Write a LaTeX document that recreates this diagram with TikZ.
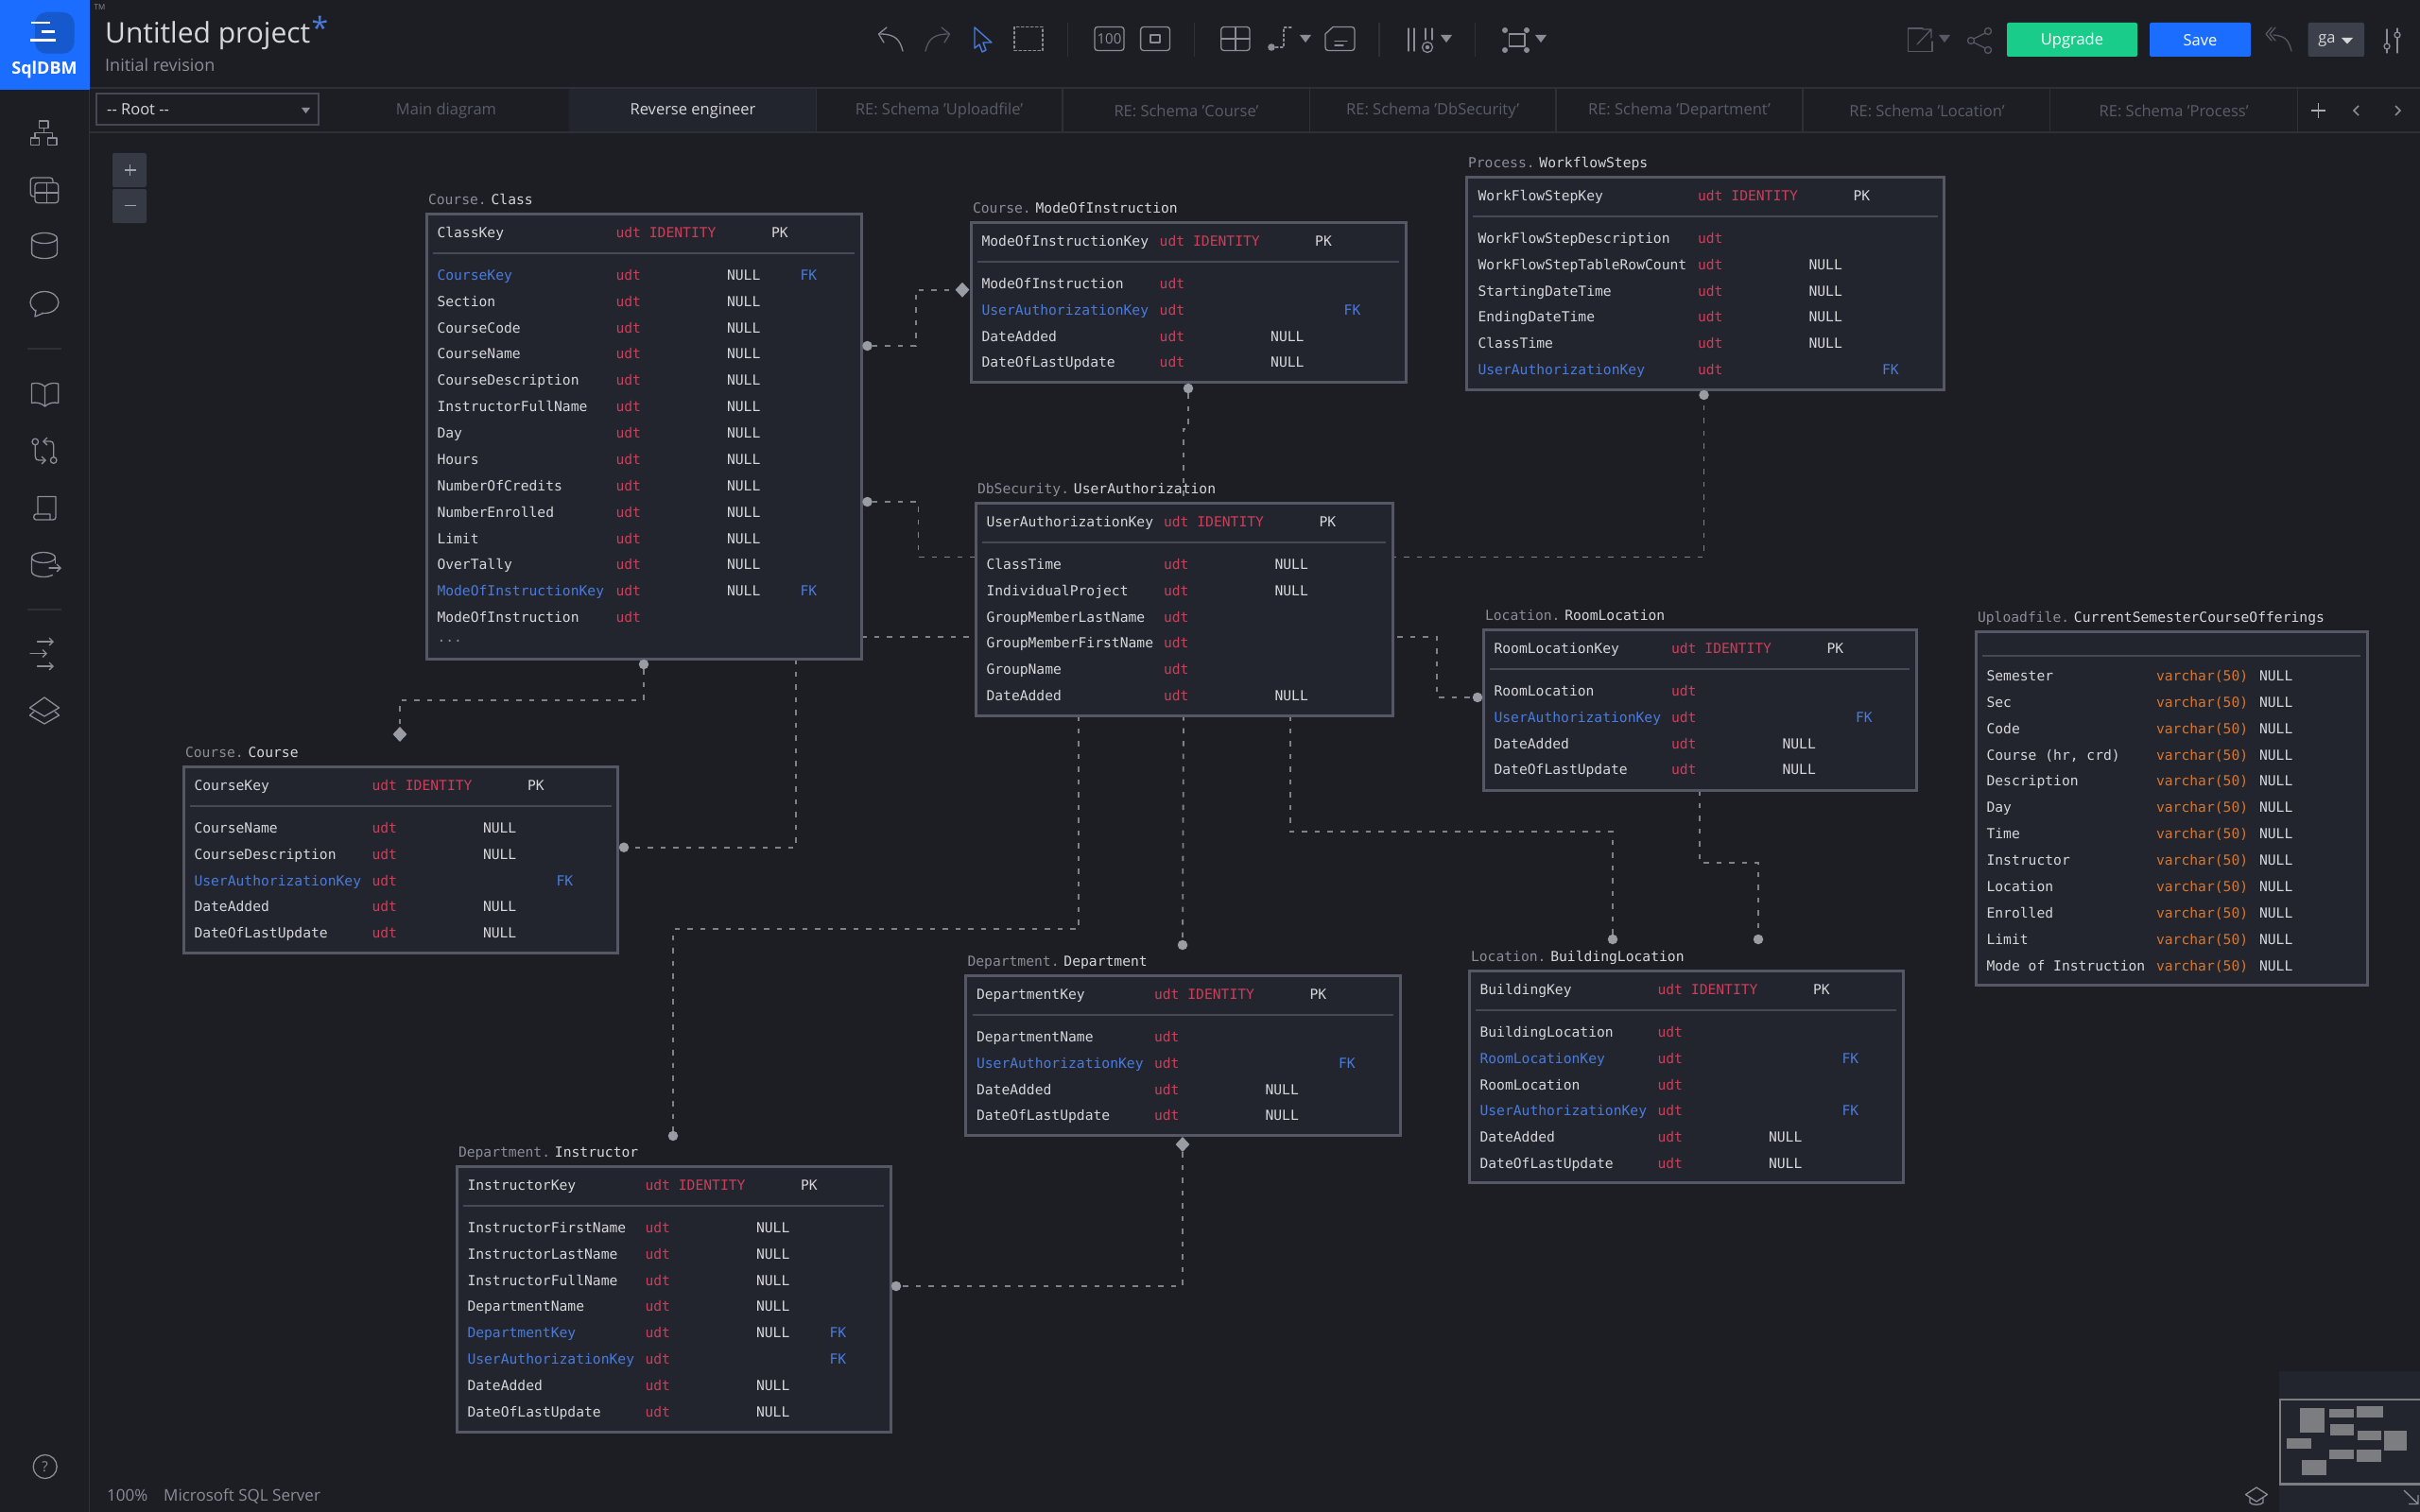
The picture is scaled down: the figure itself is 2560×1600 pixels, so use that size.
\documentclass[tikz,border=0pt]{standalone}
\usepackage{fontspec}
\setmainfont{Open Sans}
\newfontfamily\ermono{DejaVu Sans Mono}
\usetikzlibrary{shapes.geometric,backgrounds,arrows.meta}
\definecolor{bgc}{HTML}{1C1E24}
\definecolor{panelc}{HTML}{22252E}
\definecolor{linec}{HTML}{2E3038}
\definecolor{borderc}{HTML}{555864}
\definecolor{sepc}{HTML}{464954}
\definecolor{erwhite}{HTML}{D6D7D9}
\definecolor{erred}{HTML}{CC3F5A}
\definecolor{erblue}{HTML}{4A7BDC}
\definecolor{erorange}{HTML}{D9762C}
\definecolor{ergrey}{HTML}{8A8D95}
\definecolor{connc}{HTML}{7E8189}
\definecolor{dotc}{HTML}{9A9CA4}
\definecolor{tabc}{HTML}{5A5D66}
\definecolor{iconc}{HTML}{8A8D95}
\definecolor{icondim}{HTML}{565962}
\definecolor{blueb}{HTML}{1A6DFF}
\definecolor{logod}{HTML}{1559CC}
\definecolor{greenb}{HTML}{19CC8A}
\definecolor{btnc}{HTML}{363A45}
\definecolor{gabtn}{HTML}{3C404B}
\definecolor{minic}{HTML}{7C7D80}
\newcount\cellno
\newcount\rowno
\newcommand\ercell[4]{\global\advance\cellno by 1
  \node[ercellst,text=#1] (cell\the\cellno) at (#2,{-(#3)-4.3}) {#4};}
\newcommand\ertbl[8]{% id,L,T,R,B,typex,schema,table
  \def\tL{#2}\def\tT{#3}\def\tR{#4}\def\tTy{#6}\def\tX{#2+11.5}\rowno=0
  \node[tablebox,minimum width={(#4-#2)*1pt},minimum height={(#5-#3)*1pt}] (#1) at (#2,-#3) {};
  \global\advance\cellno by 1
  \node[ercellst,text=erwhite] (cell\the\cellno) at ({#2+2},{-(#3)+13.5-4.3}) {\textcolor{ergrey}{#7.}\hspace{4.8pt}#8};}
\newcommand\ersep[1]{\draw[sepst] ({\tL+7},{-(\tT)-#1}) -- ({\tR-7},{-(\tT)-#1});}
\newcommand\erhead[1]{\ercell{erwhite}{\tX}{\tT+21}{#1}
  \ercell{erred}{\tTy}{\tT+21}{udt}\ercell{erred}{\tTy+35.4}{\tT+21}{IDENTITY}
  \ercell{erwhite}{\tTy+164.5}{\tT+21}{PK}\ersep{42}}
\newcommand\rowY{\pgfmathsetmacro\ry{\tT+66+\the\rowno*27.87}\advance\rowno by 1 }
\newcommand\rowN[1]{\rowY\ercell{erwhite}{\tX}{\ry}{#1}\ercell{erred}{\tTy}{\ry}{udt}\ercell{erwhite}{\tTy+117.5}{\ry}{NULL}}
\newcommand\rowP[1]{\rowY\ercell{erwhite}{\tX}{\ry}{#1}\ercell{erred}{\tTy}{\ry}{udt}}
\newcommand\rowFN[1]{\rowY\ercell{erblue}{\tX}{\ry}{#1}\ercell{erred}{\tTy}{\ry}{udt}\ercell{erwhite}{\tTy+117.5}{\ry}{NULL}\ercell{erblue}{\tTy+195}{\ry}{FK}}
\newcommand\rowF[1]{\rowY\ercell{erblue}{\tX}{\ry}{#1}\ercell{erred}{\tTy}{\ry}{udt}\ercell{erblue}{\tTy+195}{\ry}{FK}}
\newcommand\rowV[1]{\pgfmathsetmacro\ry{\tT+48+\the\rowno*27.9}\advance\rowno by 1
  \ercell{erwhite}{\tX}{\ry}{#1}\ercell{erorange}{\tTy}{\ry}{varchar(50)}\ercell{erwhite}{\tTy+109}{\ry}{NULL}}
\newcommand\caretm[3]{\fill[#3] ({#1-6},{-(#2)+4}) -- ({#1+6},{-(#2)+4}) -- (#1,{-(#2)-4}) -- cycle;}
\begin{document}
\begin{tikzpicture}[x=1pt,y=1pt,
  tablebox/.style={draw=borderc,fill=panelc,line width=3pt,rectangle,anchor=north west,inner sep=0pt,outer sep=0pt},
  ercellst/.style={font=\ermono\fontsize{14.67}{17}\selectfont,anchor=base west,inner sep=0pt,outer sep=0pt},
  sepst/.style={draw=sepc,line width=1.5pt},
  conn/.style={draw=connc,line width=1.8pt,dash pattern=on 5.5pt off 8pt},
  dotn/.style={circle,fill=dotc,draw=none,inner sep=0pt,minimum size=10.5pt},
  dian/.style={diamond,fill=dotc,draw=none,inner sep=0pt,minimum width=15pt,minimum height=16pt},
  ic/.style={draw=iconc,line width=1.3pt,line join=round,line cap=round},
  icd/.style={draw=icondim,line width=1.3pt,line join=round,line cap=round},
  tabtxt/.style={text=tabc,font=\fontsize{16.5}{20}\selectfont,inner sep=0pt},
  uitxt/.style={inner sep=0pt,anchor=base west},
  tip/.style={-{Straight Barb[length=4pt,width=8pt]}}]
\useasboundingbox (0,0) rectangle (2560,-1600);
\begin{pgfonlayer}{background}
\fill[bgc] (0,0) rectangle (2560,-1600);
\end{pgfonlayer}

% --- tables
\ertbl{tClass}{451}{226}{911}{697}{651.5}{Course}{Class}
\erhead{ClassKey}
\rowFN{CourseKey}\rowN{Section}\rowN{CourseCode}\rowN{CourseName}\rowN{CourseDescription}
\rowN{InstructorFullName}\rowN{Day}\rowN{Hours}\rowN{NumberOfCredits}\rowN{NumberEnrolled}
\rowN{Limit}\rowN{OverTally}\rowFN{ModeOfInstructionKey}\rowP{ModeOfInstruction}
\ercell{ergrey}{\tX}{675}{...}

\ertbl{tMode}{1027}{235}{1487}{404}{1226.7}{Course}{ModeOfInstruction}
\erhead{ModeOfInstructionKey}
\rowP{ModeOfInstruction}\rowF{UserAuthorizationKey}\rowN{DateAdded}\rowN{DateOfLastUpdate}

\ertbl{tWork}{1551}{187}{2056.5}{412}{1796}{Process}{WorkflowSteps}
\def\tX{1563.5}
\erhead{WorkFlowStepKey}
\rowP{WorkFlowStepDescription}\rowN{WorkFlowStepTableRowCount}\rowN{StartingDateTime}\rowN{EndingDateTime}\rowN{ClassTime}\rowF{UserAuthorizationKey}

\ertbl{tUser}{1032}{532}{1473}{757}{1231}{DbSecurity}{UserAuthorization}
\erhead{UserAuthorizationKey}
\rowN{ClassTime}\rowN{IndividualProject}\rowP{GroupMemberLastName}\rowP{GroupMemberFirstName}\rowP{GroupName}\rowN{DateAdded}

\ertbl{tRoom}{1569}{666}{2027}{836}{1768}{Location}{RoomLocation}
\erhead{RoomLocationKey}
\rowP{RoomLocation}\rowF{UserAuthorizationKey}\rowN{DateAdded}\rowN{DateOfLastUpdate}

\ertbl{tBuild}{1554}{1027}{2013}{1251}{1753.5}{Location}{BuildingLocation}
\erhead{BuildingKey}
\rowP{BuildingLocation}\rowF{RoomLocationKey}\rowP{RoomLocation}\rowF{UserAuthorizationKey}\rowN{DateAdded}\rowN{DateOfLastUpdate}

\ertbl{tUpload}{2090}{668}{2504}{1042}{2281}{Uploadfile}{CurrentSemesterCourseOfferings}
\ersep{26}
\rowV{Semester}\rowV{Sec}\rowV{Code}\rowV{Course (hr, crd)}\rowV{Description}\rowV{Day}\rowV{Time}\rowV{Instructor}\rowV{Location}\rowV{Enrolled}\rowV{Limit}\rowV{Mode of Instruction}

\ertbl{tCourse}{194}{811}{653.5}{1008}{393.5}{Course}{Course}
\erhead{CourseKey}
\rowN{CourseName}\rowN{CourseDescription}\rowF{UserAuthorizationKey}\rowN{DateAdded}\rowN{DateOfLastUpdate}

\ertbl{tDept}{1021.5}{1032}{1481}{1201.5}{1221}{Department}{Department}
\erhead{DepartmentKey}
\rowP{DepartmentName}\rowF{UserAuthorizationKey}\rowN{DateAdded}\rowN{DateOfLastUpdate}

\ertbl{tInst}{483}{1234}{942}{1515}{682.5}{Department}{Instructor}
\erhead{InstructorKey}
\rowN{InstructorFirstName}\rowN{InstructorLastName}\rowN{InstructorFullName}\rowN{DepartmentName}\rowFN{DepartmentKey}\rowF{UserAuthorizationKey}\rowN{DateAdded}\rowN{DateOfLastUpdate}

% --- connector ends
\node[dotn] (d1) at (917.5,-366) {};
\node[dian] (m1) at (1018,-306.7) {};
\coordinate (p1a) at (968.7,-366);
\coordinate (p1b) at (968.7,-306.7);
\node[dotn] (d2) at (1257,-411) {};
\coordinate (p2a) at (1257,-454);
\coordinate (p2b) at (1252,-454);
\coordinate (p2c) at (1252,-532);
\node[dotn] (d3) at (917.5,-531) {};
\coordinate (p3a) at (971.5,-531);
\coordinate (p3b) at (971.5,-589.5);
\coordinate (p3c) at (1802.5,-589.5);
\node[dotn] (d3e) at (1802.5,-418) {};
\coordinate (p4s) at (911,-674);
\coordinate (p4a) at (1520,-674);
\coordinate (p4b) at (1520,-738);
\node[dotn] (d4e) at (1563,-738) {};
\node[dotn] (d5) at (681,-703) {};
\coordinate (p5a) at (681,-741);
\coordinate (p5b) at (423,-741);
\node[dian] (m5) at (423,-777) {};
\coordinate (p6s) at (842,-697);
\coordinate (p6a) at (842,-896.7);
\node[dotn] (d6) at (660,-896.7) {};
\coordinate (p7s) at (1141,-757);
\coordinate (p7a) at (1141,-983);
\coordinate (p7b) at (712,-983);
\node[dotn] (d7) at (712,-1202) {};
\coordinate (p8s) at (1252,-757);
\node[dotn] (d8) at (1251,-1000) {};
\coordinate (p9s) at (1365,-757);
\coordinate (p9a) at (1365,-880);
\coordinate (p9b) at (1706,-880);
\node[dotn] (d9) at (1706,-994) {};
\coordinate (p10s) at (1798,-836);
\coordinate (p10a) at (1798,-913);
\coordinate (p10b) at (1860,-913);
\node[dotn] (d10) at (1860,-994) {};
\node[dian] (m11) at (1251,-1211) {};
\coordinate (p11a) at (1251,-1361);
\node[dotn] (d11) at (948,-1361) {};

\begin{pgfonlayer}{background}
\draw[conn] (d1) -- (p1a) -- (p1b) -- (m1);
\draw[conn] (d2) -- (p2a) -- (p2b) -- (p2c);
\draw[conn] (d3) -- (p3a) -- (p3b) -- (p3c) -- (d3e);
\draw[conn] (p4s) -- (p4a) -- (p4b) -- (d4e);
\draw[conn] (d5) -- (p5a) -- (p5b) -- (m5);
\draw[conn] (p6s) -- (p6a) -- (d6);
\draw[conn] (p7s) -- (p7a) -- (p7b) -- (d7);
\draw[conn] (p8s) -- (d8);
\draw[conn] (p9s) -- (p9a) -- (p9b) -- (d9);
\draw[conn] (p10s) -- (p10a) -- (p10b) -- (d10);
\draw[conn] (m11) -- (p11a) -- (d11);
\end{pgfonlayer}

% --- chrome
\draw[linec,line width=1.5pt] (94.5,0) -- (94.5,-1600);
\draw[linec,line width=1.5pt] (94.5,-93) -- (2560,-93);
\draw[linec,line width=1.5pt] (94.5,-140) -- (2560,-140);
\fill[blueb] (0,0) rectangle (95,-95);
\fill[logod,rounded corners=12pt] (37,-13) rectangle (78.6,-56.7);
\draw[white,line width=2.6pt] (33,-24) -- (52.6,-24);
\draw[white,line width=2.6pt] (44.4,-33.3) -- (58,-33.3);
\draw[white,line width=2.6pt] (32,-42.3) -- (58.5,-42.3);
\node[text=white,inner sep=0pt,font=\fontsize{18}{22}\selectfont\bfseries] (logotext) at (47,-74) {SqlDBM};
\node[text=ergrey,inner sep=0pt,font=\fontsize{8}{10}\selectfont] (tm) at (105.5,-8) {TM};
\node[uitxt,text=erwhite,font=\fontsize{30}{36}\selectfont] (ptitle) at (111,-45.5) {Untitled project};
\node[inner sep=0pt,text=erblue,font=\fontsize{32}{38}\selectfont] (pstar) at (338.5,-29) {*};
\node[uitxt,text=ergrey,font=\fontsize{18}{22}\selectfont] (psub) at (111,-75.5) {Initial revision};

% tabs
\draw[sepc,line width=1.3pt] (102,-99) rectangle (337,-132);
\node[uitxt,text=erwhite,font=\fontsize{16.5}{20}\selectfont] (root) at (113,-122) {-{}- Root -{}-};
\fill[iconc] (319,-114) -- (328,-114) -- (323.5,-120) -- cycle;
\fill[panelc] (602,-94) rectangle (863,-139);
\node[tabtxt] (tab1) at (472,-117.5) {Main diagram};
\node[tabtxt,text=erwhite] (tab2) at (733,-117.5) {Reverse engineer};
\node[tabtxt] (tab3) at (993.6,-117.5) {RE: Schema 'Uploadfile'};
\node[tabtxt] (tab4) at (1255,-117.5) {RE: Schema 'Course'};
\node[tabtxt] (tab5) at (1515.6,-117.5) {RE: Schema 'DbSecurity'};
\node[tabtxt] (tab6) at (1776.5,-117.5) {RE: Schema 'Department'};
\node[tabtxt] (tab7) at (2038.5,-117.5) {RE: Schema 'Location'};
\node[tabtxt] (tab8) at (2299.6,-117.5) {RE: Schema 'Process'};
\foreach \x in {863.5,1124,1385.5,1646,1907,2168.5,2430.7} \draw[linec,line width=1.3pt] (\x,-93) -- (\x,-140);
\draw[erwhite!80!black,line width=1.5pt] (2445,-117) -- (2460,-117) (2452.5,-109.5) -- (2452.5,-125);
\draw[iconc,line width=1.5pt] (2495,-112) -- (2490,-117) -- (2495,-122);
\draw[iconc,line width=1.5pt] (2534,-112) -- (2539,-117) -- (2534,-122);

% zoom buttons
\fill[btnc,rounded corners=2pt] (119,-162) rectangle (155,-198);
\fill[btnc,rounded corners=2pt] (119,-200) rectangle (155,-236);
\draw[iconc!80!white,line width=1.2pt] (131.5,-180) -- (143.5,-180) (137.5,-174) -- (137.5,-186);
\draw[iconc!80!white,line width=1.2pt] (131.5,-217.5) -- (143.5,-217.5);

% sidebar icons
\draw[ic] (41.7,-128) rectangle (51,-135.7) (32.3,-146) rectangle (41.7,-153.6) (50.7,-146) rectangle (60,-153.6);
\draw[ic] (46.3,-135.7) -- (46.3,-140.5) (37,-146) -- (37,-140.5) -- (55.3,-140.5) -- (55.3,-146);
\draw[ic,rounded corners=3pt] (32.3,-188) rectangle (56,-208);
\draw[ic,fill=bgc,rounded corners=3pt] (37,-193.5) rectangle (61.7,-214.7);
\draw[ic] (49.3,-193.5) -- (49.3,-214.7) (37,-204) -- (61.7,-204);
\draw[ic] (47,-252) ellipse[x radius=13.4,y radius=5.5];
\draw[ic] (33.6,-252) -- (33.6,-268) arc[start angle=180,end angle=360,x radius=13.4,y radius=5.5] -- (60.4,-252);
\draw[ic] (47,-320) ellipse[x radius=15,y radius=11.5];
\draw[ic,fill=bgc] (38,-328) -- (37,-335) -- (46,-331.3);
\draw[linec,line width=1.2pt] (29,-369) -- (65,-369);
\draw[ic] (47.5,-409) .. controls (43,-405) and (38,-405) .. (33.5,-406) -- (33.5,-426.5) .. controls (38,-425.5) and (43,-426) .. (47.5,-430) .. controls (52,-426) and (57,-425.5) .. (61.7,-426.5) -- (61.7,-406) .. controls (57,-405) and (52,-405) .. (47.5,-409) -- (47.5,-430);
\draw[ic] (37.3,-467.5) circle[radius=3.3] (56.7,-487) circle[radius=3.3];
\draw[ic,tip] (37.3,-471) -- (37.3,-483) .. controls (37.3,-486) and (39,-487) .. (41,-487) -- (49,-487);
\draw[ic,tip] (56.7,-483.5) -- (56.7,-471) .. controls (56.7,-468) and (55,-467) .. (53,-467) -- (45,-467);
\draw[ic] (40,-544) -- (40,-525.5) -- (59,-525.5) -- (59,-547) .. controls (59,-549) and (58,-550) .. (56,-550) -- (38,-550) .. controls (35,-550) and (35,-544) .. (38,-544) -- (53,-544) -- (53,-550);
\draw[ic] (46,-590) ellipse[x radius=12.5,y radius=5.5];
\draw[ic] (33.5,-590) -- (33.5,-605) arc[start angle=180,end angle=320,x radius=12.5,y radius=5.5];
\draw[ic] (58.5,-590) -- (58.5,-596);
\draw[ic,tip] (52,-601) -- (65,-601);
\draw[linec,line width=1.2pt] (29,-645) -- (65,-645);
\draw[ic,tip] (39.5,-679) -- (57,-679);
\draw[ic,tip] (32,-691.5) -- (50,-691.5);
\draw[ic,tip] (39.5,-705) -- (57,-705);
\draw[ic] (47,-738) -- (62.5,-749) -- (47,-758) -- (31.5,-749) -- cycle;
\draw[ic] (36,-753) -- (31.5,-757) -- (47,-766) -- (62.5,-757) -- (58,-753);
\draw[ic] (47.7,-1552) circle[radius=12.5];
\node[text=iconc,inner sep=0pt,font=\fontsize{15}{18}\selectfont] (helpq) at (47.7,-1552) {?};
\node[uitxt,text=ergrey,font=\fontsize{17}{20}\selectfont] (zoomp) at (113,-1588) {100\%};
\node[uitxt,text=ergrey,font=\fontsize{17}{20}\selectfont] (dbname) at (173,-1588) {Microsoft SQL Server};

% toolbar
\draw[ic] (955,-54) .. controls (952,-42) and (947,-36) .. (931,-36);
\draw[ic] (938,-29) -- (929.5,-36) -- (935,-45);
\draw[icd] (979,-54) .. controls (982,-42) and (987,-36) .. (1003,-36);
\draw[icd] (996,-29) -- (1004.5,-36) -- (999,-45);
\draw[erblue,line width=1.4pt,line join=round] (1031,-29) -- (1031,-51) -- (1036,-47) -- (1039,-55) -- (1043,-53) -- (1040,-45) -- (1049,-45) -- cycle;
\draw[ic,dash pattern=on 2.5pt off 2.5pt] (1073,-28.5) rectangle (1103,-53.5);
\draw[linec,line width=1.2pt] (1129.7,-24) -- (1129.7,-60) (1263.5,-24) -- (1263.5,-60) (1459,-24) -- (1459,-60) (1560.6,-24) -- (1560.6,-60);
\draw[ic,rounded corners=3pt] (1158,-28.5) rectangle (1189,-53.5);
\node[text=iconc,inner sep=0pt,font=\fontsize{15}{18}\selectfont] (hundred) at (1173.5,-41) {100};
\draw[ic,rounded corners=3pt] (1206.6,-28.5) rectangle (1237.5,-53.5);
\draw[ic] (1217,-37) rectangle (1227,-45);
\draw[ic,rounded corners=3pt] (1291.7,-28.5) rectangle (1322,-53.5);
\draw[ic] (1307,-28.5) -- (1307,-53.5) (1291.7,-41) -- (1322,-41);
\draw[ic,dash pattern=on 2.5pt off 2.5pt] (1366,-29) -- (1358,-29) -- (1358,-50) -- (1349,-50);
\fill[iconc] (1345,-50) circle[radius=3.8];
\caretm{1381}{41}{iconc}
\draw[ic] (1410,-28.5) -- (1430,-28.5) .. controls (1432,-28.5) and (1433,-30) .. (1433,-32) -- (1433,-50) .. controls (1433,-52) and (1432,-53.5) .. (1430,-53.5) -- (1405,-53.5) .. controls (1403,-53.5) and (1402,-52) .. (1402,-50) -- (1402,-36) -- cycle;
\draw[ic] (1412,-43.5) -- (1425,-43.5) (1412,-48) -- (1421,-48);
\draw[ic] (1490,-30) -- (1490,-54) (1496,-30) -- (1496,-54) (1508,-30) -- (1508,-42) (1515,-30) -- (1515,-42);
\draw[ic] (1510,-50) circle[radius=5.5];
\fill[iconc] (1510,-50) circle[radius=2.2];
\caretm{1530}{41}{iconc}
\draw[ic] (1596.5,-36) rectangle (1613,-49);
\foreach \cx/\cy in {1592/32,1615/32,1592/53,1615/53} \fill[iconc] (\cx,-\cy) circle[radius=3];
\caretm{1630}{41}{iconc}

% right of the toolbar
\draw[icd] (2034,-30) -- (2018.5,-30) -- (2018.5,-54.5) -- (2044,-54.5) -- (2044,-44);
\draw[icd] (2028,-47) -- (2043,-31) (2034,-31) -- (2043,-31) -- (2043,-40);
\caretm{2057}{41}{icondim}
\draw[icd] (2103,-33) circle[radius=3.5] (2103,-53) circle[radius=3.5] (2085,-43) circle[radius=3.5];
\draw[icd] (2100,-35) -- (2088,-41) (2100,-51) -- (2088,-45);
\fill[greenb,rounded corners=2pt] (2123,-24) rectangle (2261,-60);
\node[text=white,inner sep=0pt,font=\fontsize{16.5}{20}\selectfont] (upgrade) at (2192,-43) {Upgrade};
\fill[blueb,rounded corners=2pt] (2274,-24) rectangle (2381,-60);
\node[text=white,inner sep=0pt,font=\fontsize{16.5}{20}\selectfont] (save) at (2327.5,-43) {Save};
\draw[icd] (2424,-54) .. controls (2421,-42) and (2417,-38) .. (2405,-37);
\draw[icd] (2407,-29) -- (2401,-36) -- (2407,-43) (2403,-29) -- (2397,-36) -- (2403,-43);
\fill[gabtn,rounded corners=2pt] (2441.6,-24) rectangle (2501,-60);
\node[text=erwhite,inner sep=0pt,font=\fontsize{16.5}{20}\selectfont] (gauser) at (2461.5,-43) {ga};
\fill[erwhite] (2477,-40) -- (2489,-40) -- (2483,-46.5) -- cycle;
\draw[ic] (2525,-31) -- (2525,-46) (2525,-52) -- (2525,-56) (2536,-30) -- (2536,-34) (2536,-40) -- (2536,-56);
\draw[ic] (2525,-49) circle[radius=3] (2536,-37) circle[radius=3];

% minimap
\fill[panelc] (2411,-1451) rectangle (2560,-1600);
\draw[minic,line width=2.2pt] (2412,-1481) rectangle (2562,-1570.5);
\foreach \ax/\ay/\bx/\by in {398/270/476/348,493/272/571/300,580/264/664/301,495/320/569/358,582/343/658/371,667/343/739/405,357/366/434/400,492/403/569/432,580/401/658/440,404/436/482/482}
  \fill[minic] ({2300+\ax/3},{-1400-\ay/3}) rectangle ({2300+\bx/3},{-1400-\by/3});
\draw[iconc,line width=1.3pt,line join=round] (2387,-1574) -- (2398.5,-1581.5) -- (2387,-1589) -- (2375.5,-1581.5) -- cycle;
\draw[iconc,line width=1.3pt] (2380,-1585) -- (2380,-1590) .. controls (2382,-1593) and (2392,-1593) .. (2394,-1590) -- (2394,-1585);
\draw[iconc,line width=1.3pt] (2543,-1577) -- (2558,-1591.5) (2558,-1582) -- (2558,-1591.5) -- (2548,-1591.5);
\end{tikzpicture}
\end{document}
